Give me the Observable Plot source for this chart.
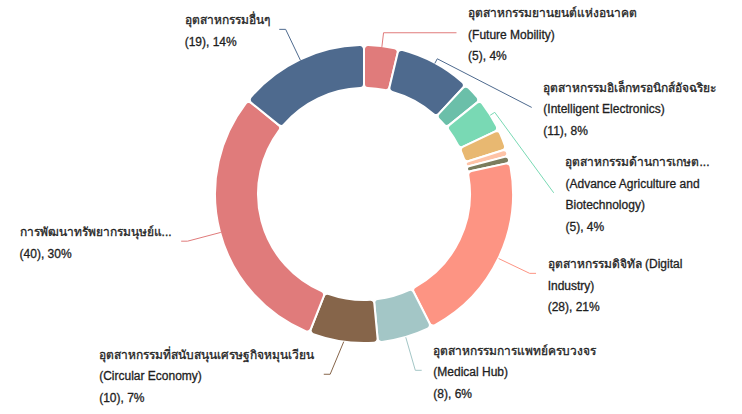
<!DOCTYPE html>
<html>
<head>
<meta charset="utf-8">
<script src="https://cdn.jsdelivr.net/npm/d3@7"></script>
<script src="https://cdn.jsdelivr.net/npm/@observablehq/plot@0.6"></script>
<style>
  html, body { margin: 0; padding: 0; background: #ffffff; }
  #chart { width: 742px; height: 414px; }
</style>
</head>
<body>
<div id="chart"></div>
<script>
// ---------------- data ----------------
const categories = [
  "อุตสาหกรรมยานยนต์แห่งอนาคต",
  "อุตสาหกรรมอิเล็กทรอนิกส์อัจฉริยะ",
  "อุตสาหกรรมการท่องเที่ยวกลุ่มรายได้ดี",
  "อุตสาหกรรมด้านการเกษตรและเทคโนโลยีชีวภาพ",
  "อุตสาหกรรมการแปรรูปอาหาร",
  "อุตสาหกรรมหุ่นยนต์",
  "อุตสาหกรรมการบินและโลจิสติกส์",
  "อุตสาหกรรมดิจิทัล",
  "อุตสาหกรรมการแพทย์ครบวงจร",
  "อุตสาหกรรมที่สนับสนุนเศรษฐกิจหมุนเวียน",
  "การพัฒนาทรัพยากรมนุษย์และการศึกษา",
  "อุตสาหกรรมอื่นๆ"
];
const values = [5, 11, 3, 5, 3, 1, 1, 28, 8, 10, 40, 19];
// label text as shown (null = no label drawn)
const labelNames = [
  "อุตสาหกรรมยานยนต์แห่งอนาคต\n(Future Mobility)",
  "อุตสาหกรรมอิเล็กทรอนิกส์อัจฉริยะ\n(Intelligent Electronics)",
  null,
  "อุตสาหกรรมด้านการเกษต...\n(Advance Agriculture and\nBiotechnology)",
  null,
  null,
  null,
  "อุตสาหกรรมดิจิทัล (Digital Industry)",
  "อุตสาหกรรมการแพทย์ครบวงจร\n(Medical Hub)",
  "อุตสาหกรรมที่สนับสนุนเศรษฐกิจหมุนเวียน\n(Circular Economy)",
  "การพัฒนาทรัพยากรมนุษย์แ...",
  "อุตสาหกรรมอื่นๆ"
];
const palette = ["#e07b7b", "#4e6a8e", "#6bbfa9", "#79d9b4", "#e8b871",
                 "#fec3a7", "#7b7c5d", "#fd9483", "#a3c6c6", "#86654a"];

// ---------------- layout parameters ----------------
const W = 742, H = 414;
const cx = 364, cy = 194;
const rOuter = 149, rInner = 106;
const len1 = 34, len2 = 6, lh = 21.5, labelGap = 10;
const textGapRight = 12, textGapLeft = 10;
const boundTop = 0, boundBottom = H - 8;
const textDy = 2;
const fontFamily = '"Liberation Sans", Arial, "Noto Sans", sans-serif';
const fontSize = 12;

// ---------------- computations ----------------
const total = d3.sum(values);
const arcs = d3.pie().sort(null).value(d => d)(values);
const ctx = document.createElement("canvas").getContext("2d");
ctx.font = `${fontSize}px ${fontFamily}`;
const measure = s => ctx.measureText(s).width;

const R = rOuter + len1;
const labels = [];
arcs.forEach((a, i) => {
  if (!labelNames[i]) return;
  const mid = (a.startAngle + a.endAngle) / 2;
  const sx = Math.sin(mid), sy = -Math.cos(mid);
  const side = sx >= 0 ? 1 : -1;
  const nameLines = labelNames[i].split("\n");
  const valueLine = `(${values[i]}), ${Math.round(values[i] / total * 100)}%`;
  const layoutLines = [...nameLines, valueLine];
  labels.push({
    i, mid, sx, sy, side, nameLines, valueLine, layoutLines,
    y0: R * sy, y: R * sy, h: layoutLines.length * lh,
    color: palette[i % palette.length]
  });
});

// avoid overlap per side (coordinates relative to the donut centre)
for (const side of [1, -1]) {
  const L = labels.filter(d => d.side === side).sort((a, b) => a.y0 - b.y0);
  let prevBottom = boundTop - cy;
  L.forEach((d, k) => {
    const minY = prevBottom + (k ? labelGap : 0) + d.h / 2;
    d.y = Math.max(d.y0, minY);
    prevBottom = d.y + d.h / 2;
  });
  let nextTop = boundBottom - cy;
  for (let k = L.length - 1; k >= 0; k--) {
    const d = L[k];
    const maxY = nextTop - (k < L.length - 1 ? labelGap : 0) - d.h / 2;
    d.y = Math.min(d.y, maxY);
    nextTop = d.y - d.h / 2;
  }
}

// leader lines & text lines
const linePts = [];
const textLines = [];
labels.forEach(d => {
  const p1 = {x: rOuter * d.sx, y: rOuter * d.sy};
  const ex = d.side * Math.sqrt(Math.max(0, R * R - d.y * d.y)) + d.side * len2;
  const p3 = {x: ex, y: d.y};
  let p2 = {x: ex - d.side * len2, y: d.y};
  const vx = p2.x - p1.x, vy = p2.y - p1.y;
  const cosA = (vx * d.sx + vy * d.sy) / Math.hypot(vx, vy);
  if (cosA < Math.cos(60 * Math.PI / 180)) {
    const t = d.sy !== 0 ? d.y / d.sy : -1;
    if (t > rOuter + 5 && t <= R + 1) p2 = {x: t * d.sx, y: d.y};
    else p2 = {x: (rOuter + 5) * d.sx, y: (rOuter + 5) * d.sy};
  }
  [p1, p2, p3].forEach((p, k) => linePts.push({...p, k, id: d.i}));

  // wrap name lines to the available width (after layout)
  const available = d.side > 0
    ? (W - cx) - (ex + textGapRight) - 20
    : (ex - textGapLeft) + cx - 6;
  const rendered = [];
  for (const line of d.nameLines) {
    if (measure(line) <= available || !line.includes(" ")) { rendered.push(line); continue; }
    let cur = "";
    for (const w of line.split(" ")) {
      const test = cur ? cur + " " + w : w;
      if (measure(test) > available && cur) { rendered.push(cur); cur = w; }
      else cur = test;
    }
    if (cur) rendered.push(cur);
  }
  rendered.push(d.valueLine);
  const top = d.y - d.h / 2;
  const tx = d.side > 0 ? ex + textGapRight : ex - textGapLeft - d3.max(rendered, measure);
  rendered.forEach((t, k) => textLines.push({x: tx, y: top + lh * (k + 0.5) + textDy, text: t}));
});

// donut render mark (uses the plot's x/y scales)
function donut(index, scales) {
  const x0 = scales.x(0), y0 = scales.y(0);
  const ro = scales.x(rOuter) - x0, ri = scales.x(rInner) - x0;
  const arcGen = d3.arc().innerRadius(ri).outerRadius(ro).cornerRadius(4);
  const g = d3.create("svg:g").attr("transform", `translate(${x0},${y0})`);
  g.selectAll("path").data(arcs).join("path")
    .attr("d", arcGen)
    .attr("fill", (d, i) => palette[i % palette.length])
    .attr("stroke", "#ffffff")
    .attr("stroke-width", 2)
    .attr("stroke-linejoin", "round");
  return g.node();
}

const leaderMarks = labels.map(d =>
  Plot.line(linePts.filter(p => p.id === d.i), {x: "x", y: "y", stroke: d.color, strokeWidth: 1, curve: "linear"})
);

const chart = Plot.plot({
  width: W,
  height: H,
  margin: 0,
  style: {background: "#ffffff", fontFamily, fontSize: `${fontSize}px`, color: "#222"},
  x: {type: "linear", domain: [-cx, W - cx], range: [0, W], axis: null},
  y: {type: "linear", domain: [-cy, H - cy], range: [0, H], axis: null},
  marks: [
    donut,
    ...leaderMarks,
    Plot.text(textLines, {x: "x", y: "y", text: "text", textAnchor: "start",
      fill: "#1e1e1e", stroke: "#1e1e1e", strokeWidth: 0.3,
      fontSize, fontFamily})
  ]
});
document.getElementById("chart").appendChild(chart);
</script>
</body>
</html>
